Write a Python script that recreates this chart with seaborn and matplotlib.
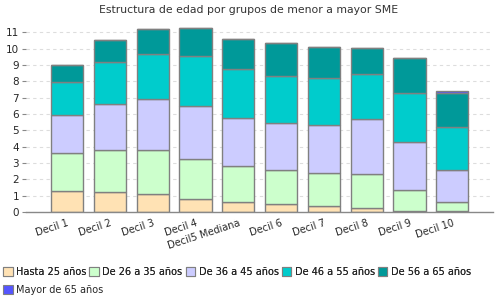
import matplotlib
matplotlib.use("Agg")
import matplotlib.pyplot as plt
import seaborn as sns
import numpy as np
from matplotlib.patches import Patch

categories = ["Decil 1", "Decil 2", "Decil 3", "Decil 4", "Decil5 Mediana",
              "Decil 6", "Decil 7", "Decil 8", "Decil 9", "Decil 10"]
series_names = ["Hasta 25 años", "De 26 a 35 años", "De 36 a 45 años",
                "De 46 a 55 años", "De 56 a 65 años", "Mayor de 65 años"]
hasta25 = [1.29, 1.22, 1.12, 0.80, 0.63, 0.49, 0.37, 0.24, 0.06, 0.06]
de26_35 = [2.32, 2.58, 2.68, 2.44, 2.21, 2.08, 2.02, 2.09, 1.29, 0.55]
de36_45 = [2.31, 2.79, 3.12, 3.25, 2.92, 2.88, 2.94, 3.36, 2.94, 1.96]
de46_55 = [2.04, 2.59, 2.75, 3.06, 3.00, 2.86, 2.87, 2.76, 3.00, 2.63]
de56_65 = [1.04, 1.33, 1.53, 1.69, 1.83, 2.04, 1.90, 1.59, 2.14, 2.09]
mayor65 = [0.00, 0.03, 0.00, 0.03, 0.00, 0.00, 0.00, 0.00, 0.00, 0.12]
colors = ["#FFE2B4", "#CCFFCC", "#CCCCFF", "#00CCCC", "#009999", "#5555FF"]

series = [hasta25, de26_35, de36_45, de46_55, de56_65, mayor65]

sns.set_theme(style="white")
plt.rcParams['font.family'] = ['DejaVu Sans']

fig = plt.figure(figsize=(5, 3), dpi=100)
ax = fig.add_axes([0.052, 0.293, 0.934, 0.618])

bottom = np.zeros(len(categories))
for vals, col in zip(series, colors):
    sns.barplot(x=categories, y=vals, bottom=bottom, color=col, width=0.75,
                edgecolor="#808080", linewidth=1.0, saturation=1, ax=ax,
                errorbar=None)
    bottom = bottom + np.array(vals)

ax.set_xlim(-0.96, 9.95)
ax.set_ylim(0, 11.35)
ax.set_yticks(range(0, 12))
ax.yaxis.grid(True, linestyle=(0, (3, 3)), color="#DDDDDD", linewidth=0.8)
ax.set_axisbelow(True)
for s in ["top", "right", "left"]:
    ax.spines[s].set_visible(False)
ax.spines["bottom"].set_color("#888888")
ax.spines["bottom"].set_linewidth(1.0)
ax.tick_params(axis="y", length=3, width=0.8, color="#888888", labelsize=7.5,
               pad=2, left=True)
ax.tick_params(axis="x", length=0, labelsize=7, pad=4)
for lab in ax.get_xticklabels():
    lab.set_rotation(18)
    lab.set_ha("right")
    lab.set_va("top")
    lab.set_rotation_mode("anchor")
ax.set_xlabel("")
ax.set_ylabel("")

fig.text(0.498, 1 - 10 / 300, "Estructura de edad por grupos de menor a mayor SME",
         ha="center", va="center", fontsize=7.8, color="#333333")

handles = [Patch(facecolor=c, edgecolor="#808080", linewidth=0.8) for c in colors]
leg1 = fig.legend(handles[:5], series_names[:5], loc="center left",
                  bbox_to_anchor=(0.0, 1 - 272 / 300), ncol=5, frameon=False,
                  fontsize=7, handlelength=1.0, handleheight=1.0,
                  handletextpad=0.35, columnspacing=0.3, borderpad=0.3,
                  borderaxespad=0)
leg2 = fig.legend(handles[5:], series_names[5:], loc="center left",
                  bbox_to_anchor=(0.0, 1 - 290 / 300), ncol=1, frameon=False,
                  fontsize=7, handlelength=1.0, handleheight=1.0,
                  handletextpad=0.35, borderpad=0.3, borderaxespad=0)
fig.add_artist(leg1)

fig.savefig("out.png", dpi=100, facecolor="white")
